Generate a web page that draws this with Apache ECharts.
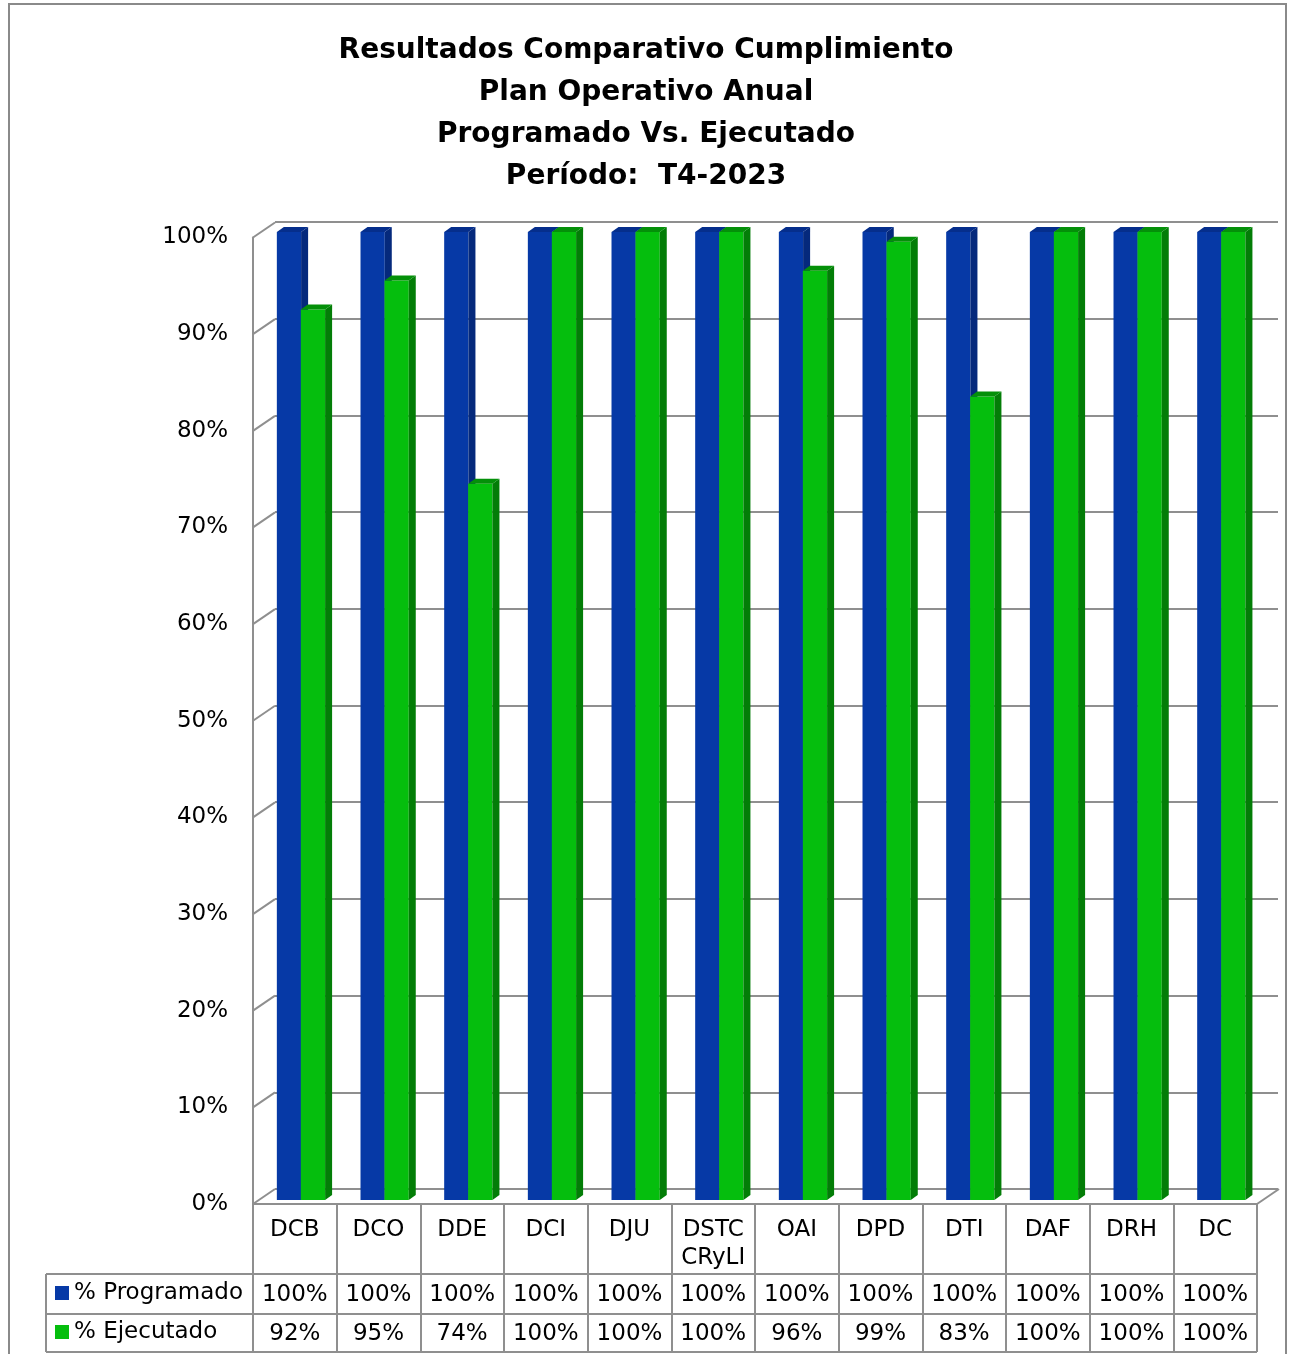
<!DOCTYPE html>
<html>
<head>
<meta charset="utf-8">
<script src="https://cdn.jsdelivr.net/npm/echarts@6/dist/echarts.min.js"></script>
<style>
html,body{margin:0;padding:0;background:#fff;}
#chart{width:1292px;height:1354px;}
</style>
</head>
<body>
<div id="chart"></div>
<script>
const titleLines = ['Resultados Comparativo Cumplimiento','Plan Operativo Anual','Programado Vs. Ejecutado','Período:  T4-2023'];
const categories = ['DCB','DCO','DDE','DCI','DJU','DSTC\nCRyLI','OAI','DPD','DTI','DAF','DRH','DC'];
const seriesNames = ['% Programado','% Ejecutado'];
const programado = [1.00,1.00,1.00,1.00,1.00,1.00,1.00,1.00,1.00,1.00,1.00,1.00];
const ejecutado  = [0.92,0.95,0.74,1.00,1.00,1.00,0.96,0.99,0.83,1.00,1.00,1.00];
const yTicks = [0,0.1,0.2,0.3,0.4,0.5,0.6,0.7,0.8,0.9,1.0];

const FONT = 'DejaVu Sans';
const GRAY = '#8f8f8f';
const BLUE = {front:'#0639A6', side:'#05297C', top:'#052E8C'};
const GREEN = {front:'#05BE0D', side:'#037D07', top:'#049009'};
const pct = v => Math.round(v*100) + '%';

function bar3d(offsetFrac, col) {
  return function (params, api) {
    const c = api.coord([api.value(0), api.value(1)]);
    const base = api.coord([api.value(0), 0]);
    const bw = api.size([1, 0])[0];
    const w = bw * 0.29;
    const x0 = c[0] + bw * offsetFrac, x1 = x0 + w;
    const yT = c[1], yB = base[1];
    const dx = 7, dy = -5;
    return {type:'group', children:[
      {type:'rect', shape:{x:x0, y:yT, width:w, height:yB-yT}, style:{fill:col.front}},
      {type:'polygon', shape:{points:[[x1,yT],[x1+dx,yT+dy],[x1+dx,yB+dy],[x1,yB]]}, style:{fill:col.side}},
      {type:'polygon', shape:{points:[[x0,yT],[x0+dx,yT+dy],[x1+dx,yT+dy],[x1,yT]]}, style:{fill:col.top}}
    ]};
  };
}

function tableText(dyOff) {
  return function (params, api) {
    const c = api.coord([api.value(0), 0]);
    return {type:'text', style:{text:pct(api.value(1)), x:c[0], y:c[1]+dyOff, align:'center', verticalAlign:'middle', fontSize:23, fontFamily:FONT, fill:'#000'}};
  };
}

const legendBase = {orient:'horizontal', left:55, padding:0, itemWidth:14, itemHeight:14, icon:'rect', selectedMode:false,
  textStyle:{fontSize:23, lineHeight:26, color:'#000', fontFamily:FONT}};

const chart = echarts.init(document.getElementById('chart'));
chart.setOption({
  animation:false,
  textStyle:{fontFamily:FONT},
  title:{text:titleLines.join('\n'), left:'center', top:25,
    textStyle:{fontSize:28, fontWeight:'bold', lineHeight:42, color:'#000', fontFamily:FONT}},
  legend:[
    Object.assign({}, legendBase, {data:[seriesNames[0]], top:1280}),
    Object.assign({}, legendBase, {data:[seriesNames[1]], top:1319})
  ],
  grid:[
    {left:253, right:35, top:232, bottom:154},
    {left:253, right:35, top:237.5, bottom:150},
    {left:275, right:14, top:222, bottom:165}
  ],
  xAxis:[
    {type:'category', data:categories, gridIndex:0, show:false},
    {type:'category', data:categories, gridIndex:1,
      axisLine:{show:true, lineStyle:{color:GRAY, width:2}},
      axisTick:{show:true, interval:0, length:148, lineStyle:{color:GRAY, width:2}},
      axisLabel:{interval:0, margin:12, fontSize:23, lineHeight:28, color:'#000', verticalAlign:'top', fontFamily:FONT}},
    {type:'category', data:categories, gridIndex:2, show:false}
  ],
  yAxis:[
    {type:'value', gridIndex:0, min:0, max:1, interval:0.1, show:false},
    {type:'value', gridIndex:1, min:0, max:1, interval:0.1,
      axisLine:{show:true, lineStyle:{color:GRAY, width:2}}, axisTick:{show:false}, splitLine:{show:false},
      axisLabel:{margin:25, fontSize:23, color:'#000', formatter:pct, fontFamily:FONT}},
    {type:'value', gridIndex:2, min:0, max:1, interval:0.1,
      axisLine:{show:false}, axisTick:{show:false}, axisLabel:{show:false},
      splitLine:{show:true, lineStyle:{color:GRAY, width:2}}}
  ],
  graphic:[
    {type:'rect', shape:{x:9, y:4, width:1277, height:1370}, style:{fill:'none', stroke:'#8a8a8a', lineWidth:2}, z:-1},
    {type:'line', shape:{x1:46, y1:1274, x2:1257, y2:1274}, style:{stroke:GRAY, lineWidth:2}},
    {type:'line', shape:{x1:46, y1:1314, x2:1257, y2:1314}, style:{stroke:GRAY, lineWidth:2}},
    {type:'line', shape:{x1:46, y1:1352, x2:1257, y2:1352}, style:{stroke:GRAY, lineWidth:2}},
    {type:'line', shape:{x1:46, y1:1274, x2:46, y2:1352}, style:{stroke:GRAY, lineWidth:2}}
  ],
  series:[
    {name:'wallDiag', type:'custom', xAxisIndex:1, yAxisIndex:1, silent:true, z:1,
      data:yTicks.map(v => [0, v]),
      renderItem:function(params, api){
        const c = api.coord([0, api.value(1)]);
        const x = c[0] - api.size([1,0])[0]/2;
        return {type:'line', shape:{x1:x, y1:c[1], x2:x+22, y2:c[1]-15}, style:{stroke:GRAY, lineWidth:2}};
      }},
    {name:'floorDiag', type:'custom', xAxisIndex:1, yAxisIndex:1, silent:true, z:1,
      data:[[categories.length-1, 0]],
      renderItem:function(params, api){
        const c = api.coord([api.value(0), 0]);
        const x = c[0] + api.size([1,0])[0]/2;
        return {type:'line', shape:{x1:x, y1:c[1], x2:x+22, y2:c[1]-15}, style:{stroke:GRAY, lineWidth:2}};
      }},
    {name:seriesNames[0], type:'custom', xAxisIndex:0, yAxisIndex:0, z:5,
      itemStyle:{color:BLUE.front},
      data:programado.map((v,i) => [i, v]), renderItem:bar3d(-0.215, BLUE)},
    {name:seriesNames[1], type:'custom', xAxisIndex:0, yAxisIndex:0, z:6,
      itemStyle:{color:GREEN.front},
      data:ejecutado.map((v,i) => [i, v]), renderItem:bar3d(0.0717, GREEN)},
    {name:'tblProg', type:'custom', xAxisIndex:1, yAxisIndex:1, silent:true, z:3,
      data:programado.map((v,i) => [i, v]), renderItem:tableText(91)},
    {name:'tblEjec', type:'custom', xAxisIndex:1, yAxisIndex:1, silent:true, z:3,
      data:ejecutado.map((v,i) => [i, v]), renderItem:tableText(130)}
  ]
});
</script>
</body>
</html>
